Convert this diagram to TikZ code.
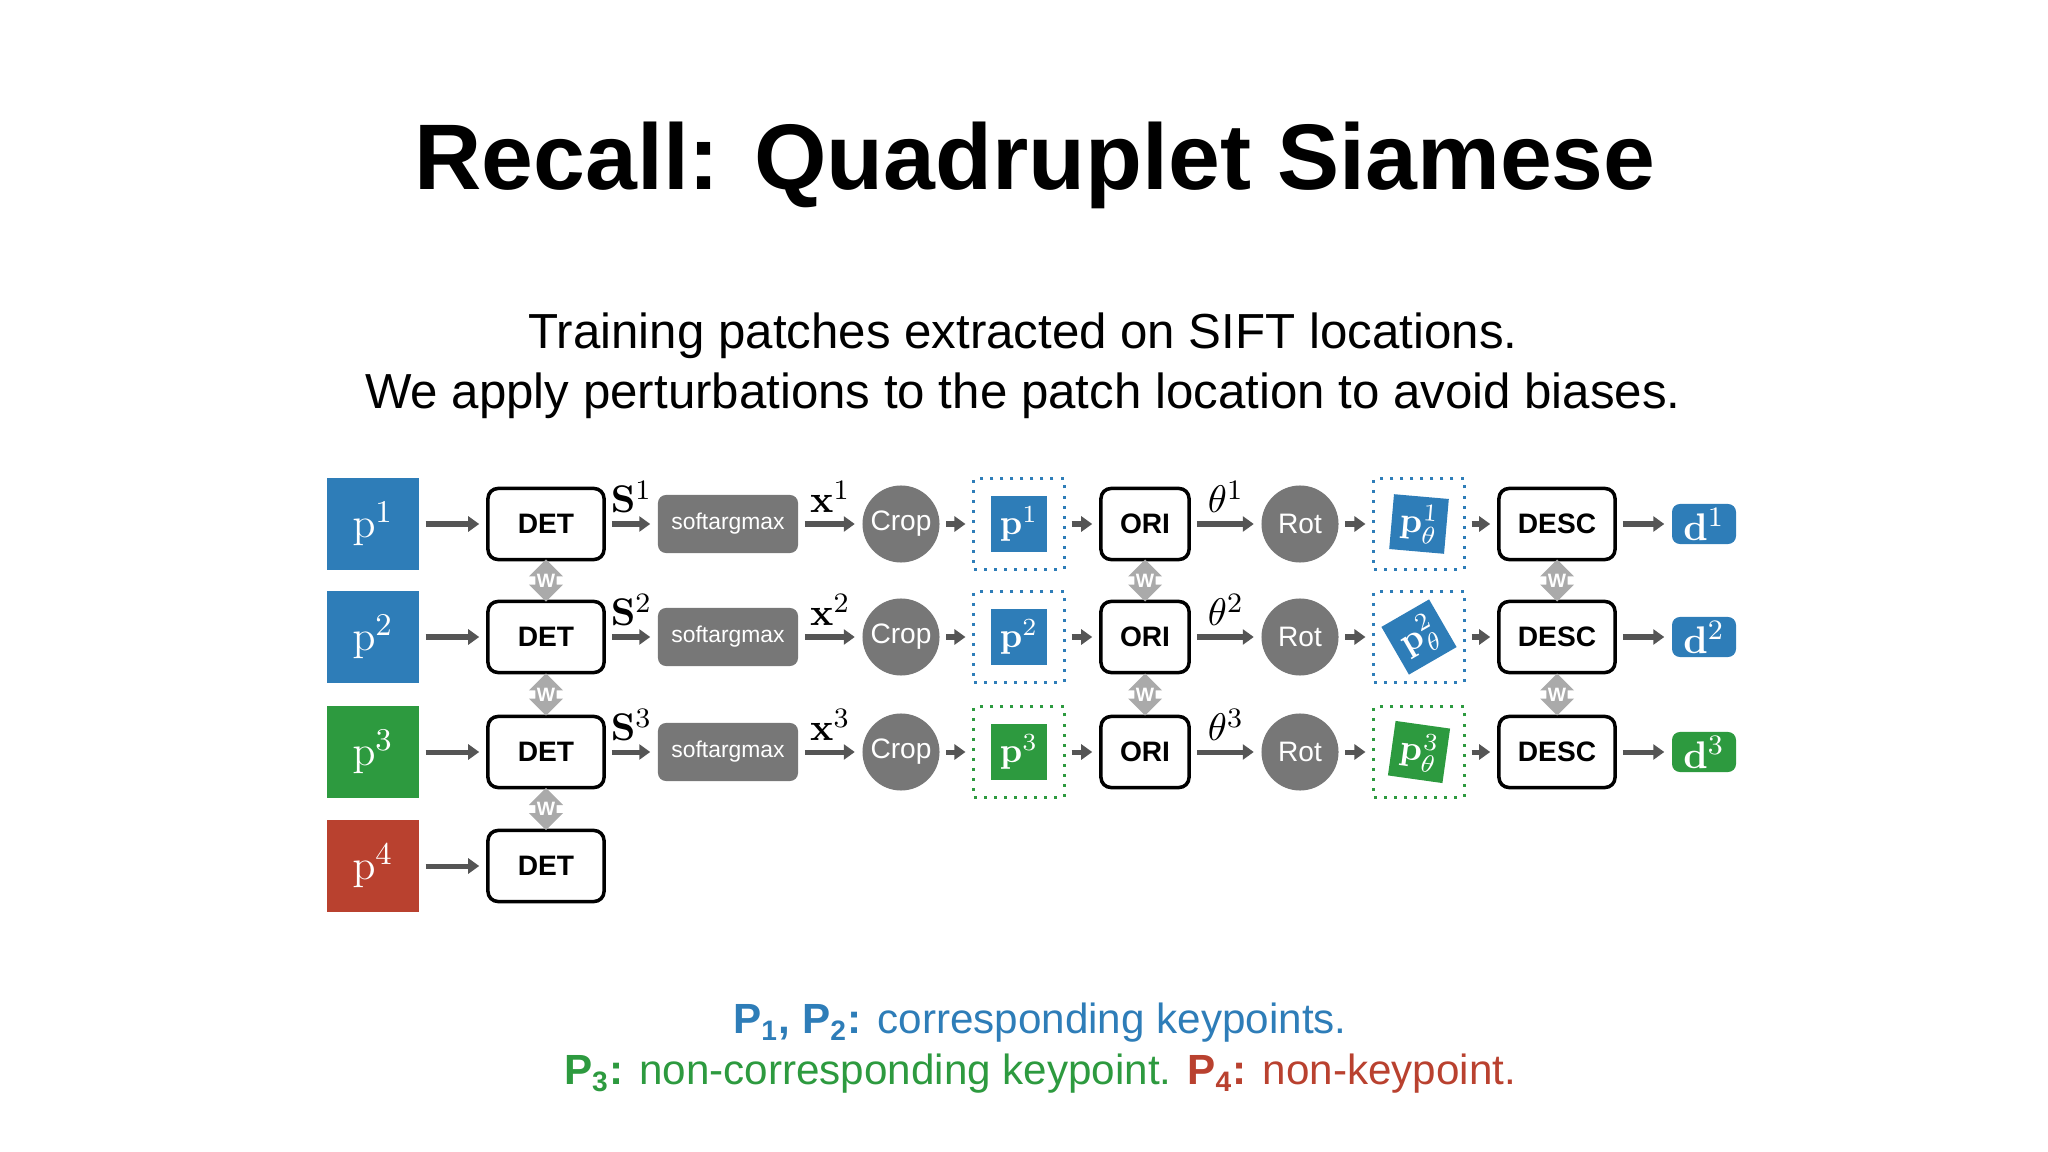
\documentclass[tikz,border=0pt]{standalone}
\usepackage{amsmath}
\usepackage[no-math]{fontspec}
\setmainfont{Liberation Sans}
\usetikzlibrary{arrows.meta,shapes.arrows,calc}
\definecolor{pblue}{HTML}{2E7DB8}
\definecolor{pgreen}{HTML}{2D9A3F}
\definecolor{pred}{HTML}{B9412F}
\definecolor{dgray}{HTML}{555555}
\definecolor{mgray}{HTML}{777777}
\definecolor{lgray}{HTML}{AAAAAA}
\tikzset{
  arr/.style={-{Triangle[length=0.11cm,width=0.15cm]}, line width=0.05cm, draw=dgray, shorten <=0.06cm, shorten >=0.07cm},
  patch/.style={minimum size=0.92cm, inner sep=0pt, text=white, font=\fontsize{13}{13}\selectfont},
  box/.style={draw, line width=0.035cm, rounded corners=0.1cm, minimum height=0.71cm, font=\bfseries\fontsize{8}{8}\selectfont},
  gbox/.style={fill=mgray, rounded corners=0.08cm, minimum width=1.4cm, minimum height=0.58cm, text=white, font=\fontsize{6.5}{6.5}\selectfont},
  circ/.style={circle, fill=mgray, minimum size=0.77cm, inner sep=0pt, text=white, font=\fontsize{8}{8}\selectfont},
  dotbox/.style={draw, dotted, line width=0.03cm, minimum size=0.9cm},
  small/.style={minimum size=0.55cm, inner sep=0pt, text=white, font=\fontsize{10}{10}\selectfont},
  outbox/.style={rounded corners=0.08cm, minimum width=0.64cm, minimum height=0.4cm, inner sep=0pt, text=white, font=\fontsize{11}{11}\selectfont},
  wt/.style={double arrow, shape border rotate=90, fill=lgray, minimum height=0.42cm, minimum width=0.34cm, double arrow head extend=0.06cm, inner sep=0pt, text=white, font=\bfseries\fontsize{5.5}{5.5}\selectfont},
  lab/.style={font=\fontsize{11}{11}\selectfont, inner sep=1pt}
}
\begin{document}
\begin{tikzpicture}[x=0.01cm,y=-0.01cm]
\useasboundingbox (0,0) rectangle (2048,1152);
\node[font=\bfseries\fontsize{26.5}{26.5}\selectfont] (title) at (1035,165) {Recall: Quadruplet Siamese};
\node[font=\fontsize{14}{14}\selectfont] (sub1) at (1023,336) {Training patches extracted on SIFT locations.};
\node[font=\fontsize{14}{14}\selectfont] (sub2) at (1023,396) {We apply perturbations to the patch location to avoid biases.};

\foreach \r/\y/\c/\rot in {1/524/pblue/-5, 2/637/pblue/30, 3/752/pgreen/-8} {
  \node[patch, fill=\c] (P\r) at (373,\y) {$\mathrm{p}^{\r}$};
  \node[box, minimum width=1.16cm] (det\r) at (546,\y) {DET};
  \node[gbox] (sam\r) at (728,\y) {softargmax};
  \node[circ] (crop\r) at (901,\y) {Crop};
  \node[dotbox, draw=\c] (cb\r) at (1019,\y) {};
  \node[small, fill=\c] (pc\r) at (1019,\y) {$\mathbf{p}^{\r}$};
  \node[box, minimum width=0.88cm] (ori\r) at (1145,\y) {ORI};
  \node[circ] (rot\r) at (1300,\y) {Rot};
  \node[dotbox, draw=\c] (rb\r) at (1419,\y) {};
  \node[small, fill=\c, rotate=\rot] (pr\r) at (1419,\y) {$\mathbf{p}_{\theta}^{\r}$};
  \node[box, minimum width=1.16cm] (desc\r) at (1557,\y) {DESC};
  \node[outbox, fill=\c] (d\r) at (1704,\y) {$\mathbf{d}^{\r}$};
  \draw[arr] (P\r) -- (det\r);
  \draw[arr] (det\r) -- node[lab, above, yshift=0.05cm] {$\mathbf{S}^{\r}$} (sam\r);
  \draw[arr] (sam\r) -- node[lab, above, yshift=0.05cm] {$\mathbf{x}^{\r}$} (crop\r);
  \draw[arr] (crop\r) -- (cb\r);
  \draw[arr] (cb\r) -- (ori\r);
  \draw[arr] (ori\r) -- node[lab, above, yshift=0.05cm] {$\theta^{\r}$} (rot\r);
  \draw[arr] (rot\r) -- (rb\r);
  \draw[arr] (rb\r) -- (desc\r);
  \draw[arr] (desc\r) -- (d\r);
}
\node[patch, fill=pred] (P4) at (373,866) {$\mathrm{p}^{4}$};
\node[box, minimum width=1.16cm] (det4) at (546,866) {DET};
\draw[arr] (P4) -- (det4);

\node[wt] (w12) at ($(det1)!0.5!(det2)$) {W};
\node[wt] (w23) at ($(det2)!0.5!(det3)$) {W};
\node[wt] (w34) at ($(det3)!0.5!(det4)$) {W};
\node[wt] (wo12) at ($(ori1)!0.5!(ori2)$) {W};
\node[wt] (wo23) at ($(ori2)!0.5!(ori3)$) {W};
\node[wt] (wd12) at ($(desc1)!0.5!(desc2)$) {W};
\node[wt] (wd23) at ($(desc2)!0.5!(desc3)$) {W};

\node[font=\fontsize{12}{12}\selectfont, text=pblue] (leg1) at (1040,1023) {\textbf{P\textsubscript{1}, P\textsubscript{2}:} corresponding keypoints.};
\node[font=\fontsize{12}{12}\selectfont] (leg2) at (1040,1074) {\textcolor{pgreen}{\textbf{P\textsubscript{3}:} non-corresponding keypoint.} \textcolor{pred}{\textbf{P\textsubscript{4}:} non-keypoint.}};
\end{tikzpicture}
\end{document}
